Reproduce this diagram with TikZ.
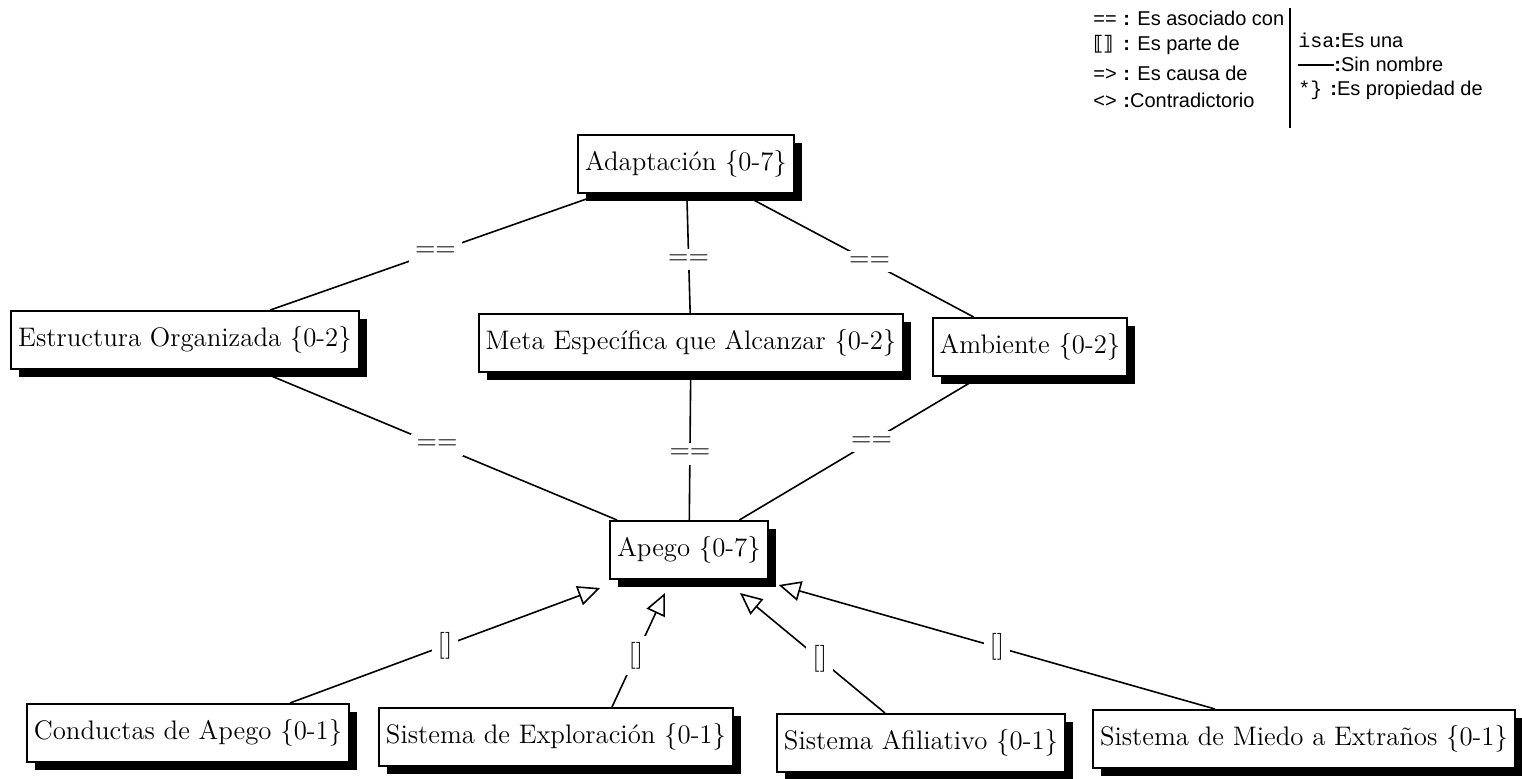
\documentclass[tikz,border=0pt]{standalone}
\usepackage{fontspec}
\setsansfont{Liberation Sans}
\setmonofont{Liberation Mono}
\newfontfamily\symfont{DejaVu Sans}
\usepackage{tikz}
\usetikzlibrary{arrows.meta, shadows, positioning}
\newcommand{\conceptfont}{\fontsize{13.4}{15}\selectfont}
\newcommand{\legendfont}{\fontsize{10}{12}\selectfont\sffamily}
\tikzset{
  %% -- concept box (with hard black shadow) --
  cm/concept/.style={
    draw, line width=1pt, fill=white, inner xsep=3.5pt,
    minimum height=29pt, font=\conceptfont,
    drop shadow={shadow xshift=4pt, shadow yshift=-4pt, fill=black, opacity=1}
  },
  %% -- "es asociado con" link --
  cm/assoc/.style={line width=0.8pt},
  %% -- "es parte de" link --
  cm/part/.style={line width=0.8pt,
    -{Triangle[open, length=11pt, width=10pt, line width=0.8pt]}},
  %% -- link label --
  cm/lbl/.style={fill=white, inner sep=3pt, font=\conceptfont},
  %% -- legend entry --
  leg/item/.style={anchor=west, inner sep=0pt, font=\legendfont},
}

\begin{document}
\begin{tikzpicture}[x=0.5pt, y=-0.5pt]
\useasboundingbox (0,0) rectangle (1522,778);

%% Nodes
\node[cm/concept] (adapt) at (686,164) {Adaptación \{0-7\}};
\node[cm/concept] (estr)  at (185,340) {Estructura Organizada \{0-2\}};
\node[cm/concept] (meta)  at (691,343) {Meta Específica que Alcanzar \{0-2\}};
\node[cm/concept] (amb)   at (1030,347) {Ambiente \{0-2\}};
\node[cm/concept] (apego) at (689,550) {Apego \{0-7\}};
\node[cm/concept] (cond)  at (188,733) {Conductas de Apego \{0-1\}};
\node[cm/concept] (expl)  at (556,737) {Sistema de Exploración \{0-1\}};
\node[cm/concept] (afil)  at (921,743) {Sistema Afiliativo \{0-1\}};
\node[cm/concept] (miedo) at (1304,739) {Sistema de Miedo a Extraños \{0-1\}};

%% Adaptación -> second row
\draw[cm/assoc] (adapt) -- node[cm/lbl]{==} (estr);
\draw[cm/assoc] (adapt) -- node[cm/lbl, pos=0.55]{==} (meta);
\draw[cm/assoc] (adapt) -- node[cm/lbl, pos=0.55]{==} (amb);

%% second row -> Apego
\draw[cm/assoc] (estr) -- node[cm/lbl]{==} (apego);
\draw[cm/assoc] (meta) -- node[cm/lbl, pos=0.55]{==} (apego);
\draw[cm/assoc] (amb)  -- node[cm/lbl, pos=0.45]{==} (apego);

%% parts of Apego
\draw[cm/part] ([xshift=51pt]cond.north)
  -- node[cm/lbl, pos=0.5]{[]} ([xshift=-44.5pt, yshift=-4pt]apego.south);
\draw[cm/part] ([xshift=28pt]expl.north)
  -- node[cm/lbl, pos=0.45]{[]} ([xshift=-12pt, yshift=-6.5pt]apego.south);
\draw[cm/part] ([xshift=-18pt]afil.north)
  -- node[cm/lbl, pos=0.45]{[]} ([xshift=25.5pt, yshift=-6.5pt]apego.south);
\draw[cm/part] ([xshift=-44.5pt]miedo.north)
  -- node[cm/lbl, pos=0.5]{[]} ([xshift=5pt, yshift=-2.5pt]apego.south east);

%% Legend
\begin{scope}
  \clip (1085,0) rectangle (1288,107);
  \node[leg/item] (l1) at (1093,18)  {\makebox[15pt][l]{==}\textbf{:} Es asociado con};
  \node[leg/item] (l2) at (1093,45)  {\makebox[15pt][l]{\symfont\textbf{⟦⟧}}\textbf{:} Es parte de};
  \node[leg/item] (l3) at (1093,73)  {\makebox[15pt][l]{=>}\textbf{:} Es causa de};
  \node[leg/item] (l4) at (1093,100) {\makebox[15pt][l]{<>}\textbf{:}Contradictorio};
\end{scope}
\draw[line width=1pt] (1290,8) -- (1290,128);
\node[leg/item] (r1) at (1298,40) {{\ttfamily isa}\textbf{:}Es una};
\node[leg/item] (r2) at (1298,64) {\rule[2.8pt]{18pt}{0.6pt}\textbf{:}Sin nombre};
\node[leg/item] (r3) at (1298,90) {\makebox[16pt][l]{\ttfamily *\}}\textbf{:}Es propiedad de};
\end{tikzpicture}
\end{document}
